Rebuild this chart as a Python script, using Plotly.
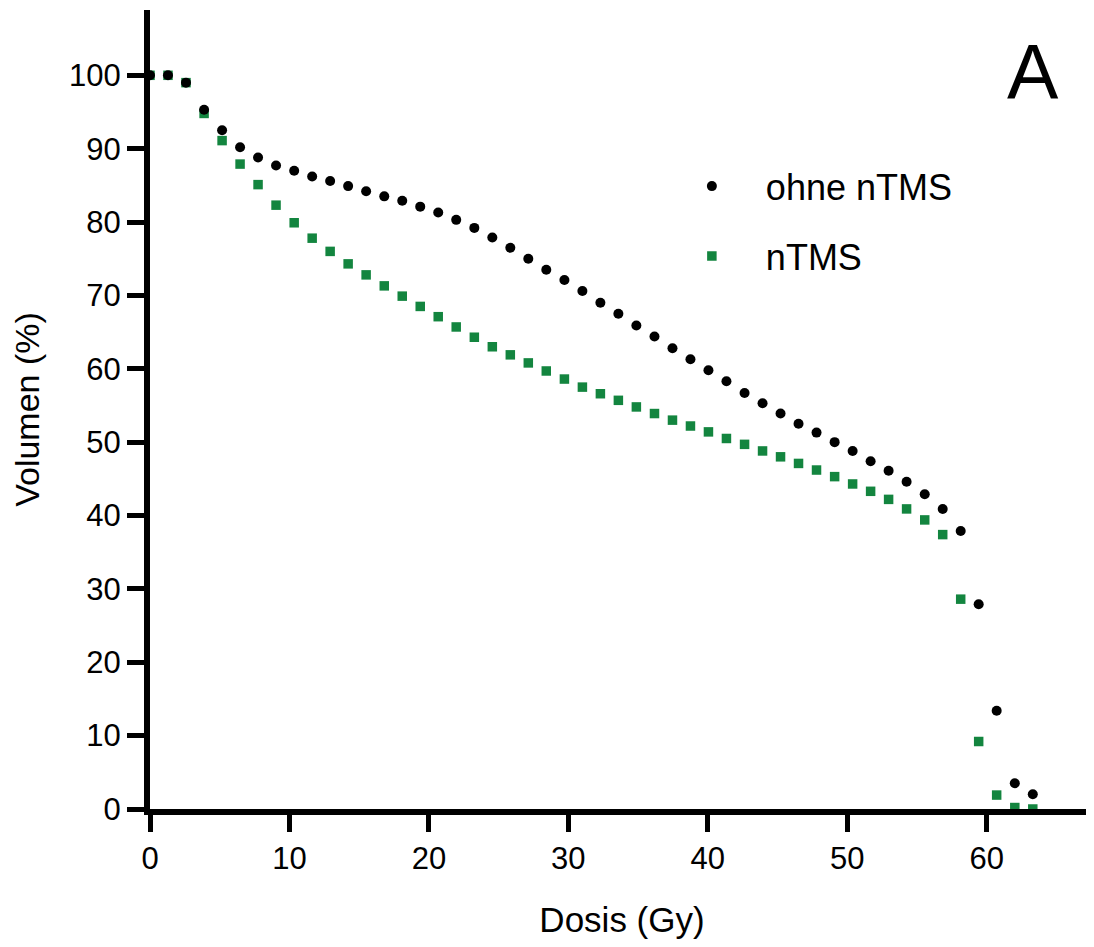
import plotly.graph_objects as go

dosis = [0.0, 1.29, 2.58, 3.88, 5.17, 6.46, 7.75, 9.04, 10.34, 11.63,
         12.92, 14.21, 15.5, 16.8, 18.09, 19.38, 20.67, 21.96, 23.26, 24.55,
         25.84, 27.13, 28.42, 29.72, 31.01, 32.3, 33.59, 34.88, 36.18, 37.47,
         38.76, 40.05, 41.34, 42.64, 43.93, 45.22, 46.51, 47.8, 49.1, 50.39,
         51.68, 52.97, 54.26, 55.56, 56.85, 58.14, 59.43, 60.72, 62.02, 63.31]

ohne_ntms = [100, 100, 99.0, 95.3, 92.5, 90.2, 88.8, 87.7, 87.0, 86.2,
             85.6, 84.9, 84.2, 83.5, 82.9, 82.1, 81.3, 80.3, 79.2, 77.9,
             76.5, 75.0, 73.5, 72.1, 70.6, 69.0, 67.5, 65.9, 64.4, 62.8,
             61.3, 59.8, 58.3, 56.7, 55.3, 53.9, 52.5, 51.3, 50.0, 48.8,
             47.4, 46.1, 44.6, 42.9, 40.9, 37.9, 27.9, 13.4, 3.5, 2.0]

ntms = [100, 100, 99.0, 94.8, 91.1, 87.9, 85.1, 82.3, 79.9, 77.8,
        76.0, 74.3, 72.8, 71.3, 69.9, 68.5, 67.1, 65.7, 64.3, 63.0,
        61.9, 60.8, 59.7, 58.6, 57.5, 56.6, 55.7, 54.8, 53.9, 53.0,
        52.2, 51.4, 50.5, 49.7, 48.8, 48.0, 47.1, 46.2, 45.3, 44.3,
        43.3, 42.2, 40.9, 39.4, 37.4, 28.6, 9.2, 1.9, 0.2, 0.0]

schrift = "Liberation Sans, Arial, Helvetica, sans-serif"
gruen = "#13853f"

fig = go.Figure()

# gruen zuerst, damit die schwarzen Punkte oben liegen
fig.add_trace(go.Scatter(
    x=dosis, y=ntms, mode="markers", name="nTMS",
    legendgroup="b", legendrank=2, cliponaxis=False,
    marker=dict(symbol="square", size=9.5, color=gruen)
))
fig.add_trace(go.Scatter(
    x=dosis, y=ohne_ntms, mode="markers", name="ohne nTMS",
    legendgroup="a", legendrank=1, cliponaxis=False,
    marker=dict(symbol="circle", size=10, color="black")
))

achse = dict(
    showline=True, linecolor="black", linewidth=6,
    ticks="outside", ticklen=17, tickwidth=5, tickcolor="black",
    showgrid=False, zeroline=False, automargin=False,
    tickfont=dict(family=schrift, size=31, color="black"),
)

# Seite hat 8px Rand im Browser -> Figur etwas kleiner
fig.update_layout(
    width=1086, height=931,
    margin=dict(l=142, r=0, t=2, b=130),
    paper_bgcolor="white", plot_bgcolor="white",
    font=dict(family=schrift, color="black"),
    xaxis=dict(range=[0, 67.7], tickvals=[0, 10, 20, 30, 40, 50, 60],
               title=dict(text="Dosis (Gy)", font=dict(size=35), standoff=40),
               **achse),
    yaxis=dict(range=[0, 108.9], tickvals=list(range(0, 101, 10)),
               title=dict(text="Volumen (%)", font=dict(size=34), standoff=23),
               **achse),
    legend=dict(x=0.538, y=0.817, xanchor="left", yanchor="top",
                font=dict(size=36), tracegroupgap=20,
                bgcolor="rgba(0,0,0,0)", itemwidth=98),
    annotations=[dict(text="A", x=0.935, y=0.922, xref="paper", yref="paper",
                      xanchor="center", yanchor="middle",
                      showarrow=False, font=dict(size=77, color="black"))],
)

fig.write_html("out.html")
